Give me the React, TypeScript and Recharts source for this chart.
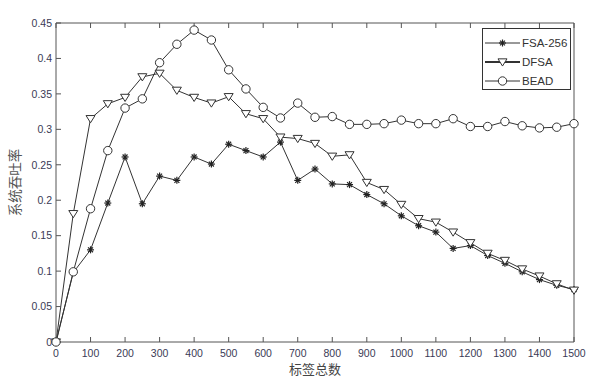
import React from "react";
import { LineChart, Line, XAxis, YAxis } from "recharts";

const tagCounts = [
  0, 50, 100, 150, 200, 250, 300, 350, 400, 450, 500, 550, 600, 650, 700, 750,
  800, 850, 900, 950, 1000, 1050, 1100, 1150, 1200, 1250, 1300, 1350, 1400, 1450, 1500,
];

const fsa256 = [
  0, 0.098, 0.13, 0.196, 0.261, 0.195, 0.234, 0.228, 0.261, 0.251, 0.279, 0.27,
  0.261, 0.282, 0.228, 0.244, 0.223, 0.222, 0.208, 0.195, 0.178, 0.164, 0.155,
  0.132, 0.136, 0.122, 0.111, 0.099, 0.088, 0.08, 0.074,
];

const dfsa = [
  0, 0.181, 0.315, 0.336, 0.345, 0.374, 0.379, 0.355, 0.345, 0.337, 0.346, 0.322,
  0.315, 0.289, 0.287, 0.28, 0.262, 0.264, 0.225, 0.215, 0.194, 0.174, 0.169,
  0.155, 0.14, 0.125, 0.115, 0.103, 0.093, 0.082, 0.073,
];

const bead = [
  0, 0.099, 0.188, 0.27, 0.33, 0.343, 0.394, 0.42, 0.44, 0.426, 0.384, 0.357,
  0.331, 0.316, 0.337, 0.317, 0.318, 0.307, 0.307, 0.308, 0.313, 0.308, 0.308,
  0.315, 0.304, 0.304, 0.311, 0.305, 0.302, 0.303, 0.308,
];

const xTicks = [0, 100, 200, 300, 400, 500, 600, 700, 800, 900, 1000, 1100, 1200, 1300, 1400, 1500];
const yTicks = [0, 0.05, 0.1, 0.15, 0.2, 0.25, 0.3, 0.35, 0.4, 0.45];
const yTickLabels = ["0", "0.05", "0.1", "0.15", "0.2", "0.25", "0.3", "0.35", "0.4", "0.45"];

const data = tagCounts.map((n, i) => ({
  n,
  fsa: fsa256[i],
  dfsa: dfsa[i],
  bead: bead[i],
}));

const INK = "#333";
const TICK_FONT = { fontSize: 10.5, fill: "#3a3a55", fontFamily: "Liberation Sans, Arial, sans-serif" };

const StarDot = (props: any) => {
  const { cx, cy } = props;
  if (cx == null || cy == null) return null;
  const r = 3.5;
  const d = r * 0.7;
  return (
    <g stroke="#222" strokeWidth={1.2}>
      <line x1={cx - r} y1={cy} x2={cx + r} y2={cy} />
      <line x1={cx} y1={cy - r} x2={cx} y2={cy + r} />
      <line x1={cx - d} y1={cy - d} x2={cx + d} y2={cy + d} />
      <line x1={cx - d} y1={cy + d} x2={cx + d} y2={cy - d} />
    </g>
  );
};

const TriDot = (props: any) => {
  const { cx, cy } = props;
  if (cx == null || cy == null) return null;
  const r = 4.5;
  return (
    <polygon
      points={`${cx - r},${cy - r * 0.7} ${cx + r},${cy - r * 0.7} ${cx},${cy + r * 0.9}`}
      fill="white"
      stroke={INK}
      strokeWidth={1}
    />
  );
};

const CircleDot = (props: any) => {
  const { cx, cy } = props;
  if (cx == null || cy == null) return null;
  return <circle cx={cx} cy={cy} r={4.2} fill="white" stroke={INK} strokeWidth={1} />;
};

const LegendBox = () => {
  const rows = [
    { name: "FSA-256", Dot: StarDot, w: 1 },
    { name: "DFSA", Dot: TriDot, w: 1.8 },
    { name: "BEAD", Dot: CircleDot, w: 1 },
  ];
  return (
    <div
      style={{
        position: "absolute",
        left: 482,
        top: 28,
        width: 89,
        height: 62,
        border: `1px solid ${INK}`,
        background: "white",
        boxSizing: "border-box",
        paddingTop: 4,
      }}
    >
      {rows.map(({ name, Dot, w }) => (
        <div key={name} style={{ display: "flex", alignItems: "center", height: 19 }}>
          <svg width={38} height={14} style={{ marginLeft: 1 }}>
            <line x1={1} y1={7} x2={36} y2={7} stroke={INK} strokeWidth={w} />
            <Dot cx={18.5} cy={7} />
          </svg>
          <span style={{ fontSize: 11.5, color: "#333", fontFamily: "Liberation Sans, Arial, sans-serif" }}>
            {name}
          </span>
        </div>
      ))}
    </div>
  );
};

export default function App() {
  return (
    <div style={{ position: "absolute", left: 0, top: 0, width: 600, height: 389, background: "white" }}>
      <LineChart width={600} height={389} data={data} margin={{ top: 22, right: 25, left: 0, bottom: 0 }}>
        <XAxis
          xAxisId="b"
          dataKey="n"
          type="number"
          domain={[0, 1500]}
          ticks={xTicks}
          height={47}
          tick={TICK_FONT}
          tickSize={-5}
          tickMargin={13}
          stroke="#555"
          label={{
            value: "标签总数",
            position: "insideBottom",
            offset: 15,
            style: { fontSize: 13, fill: "#444", fontFamily: "Noto Sans CJK SC" },
          }}
        />
        <XAxis
          xAxisId="t"
          orientation="top"
          dataKey="n"
          type="number"
          domain={[0, 1500]}
          ticks={xTicks}
          height={1}
          tickFormatter={() => ""}
          tickSize={-5}
          stroke="#555"
        />
        <YAxis
          yAxisId="l"
          type="number"
          domain={[0, 0.45]}
          ticks={yTicks}
          width={56}
          tick={TICK_FONT}
          tickFormatter={(v: number) => yTickLabels[yTicks.indexOf(v)] ?? String(v)}
          tickSize={-5}
          tickMargin={9}
          stroke="#555"
          label={{
            value: "系统吞吐率",
            angle: -90,
            position: "insideLeft",
            offset: 15,
            style: { fontSize: 13.5, fill: "#555", fontFamily: "Noto Sans CJK SC", textAnchor: "middle" },
          }}
        />
        <YAxis
          yAxisId="r"
          orientation="right"
          type="number"
          domain={[0, 0.45]}
          ticks={yTicks}
          width={1}
          tickFormatter={() => ""}
          tickSize={-5}
          stroke="#555"
        />
        <Line
          xAxisId="b"
          yAxisId="l"
          dataKey="fsa"
          name="FSA-256"
          stroke={INK}
          strokeWidth={1}
          dot={<StarDot />}
          isAnimationActive={false}
        />
        <Line
          xAxisId="b"
          yAxisId="l"
          dataKey="dfsa"
          name="DFSA"
          stroke={INK}
          strokeWidth={1}
          dot={<TriDot />}
          isAnimationActive={false}
        />
        <Line
          xAxisId="b"
          yAxisId="l"
          dataKey="bead"
          name="BEAD"
          stroke={INK}
          strokeWidth={1}
          dot={<CircleDot />}
          isAnimationActive={false}
        />
      </LineChart>
      <LegendBox />
    </div>
  );
}
